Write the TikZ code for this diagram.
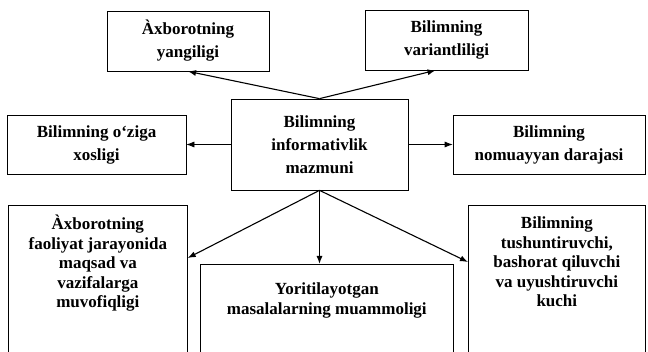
\documentclass[tikz,border=0pt]{standalone}
\usepackage{fontspec}
\setmainfont{Liberation Serif}
\usepackage{tikz}
\usetikzlibrary{
  arrows.meta,
  positioning,
  calc
}
\tikzset{
    infobox/.style={draw, line width=0.7pt, inner sep=0pt, align=center,
        font=\fontsize{17}{23}\selectfont\bfseries},
    tallbox/.style={draw, line width=0.7pt, inner sep=0pt, anchor=north west},
    boxtext/.style={inner sep=0pt, align=center, anchor=north,
        font=\fontsize{17}{19.5}\selectfont\bfseries},
    thinarrow/.style={-{Latex[length=8pt,width=6pt]}, line width=0.7pt},
    boldarrow/.style={-{Latex[length=8pt,width=6pt]}, line width=1.1pt}
}

\begin{document}
\begin{tikzpicture}[x=1pt, y=-1pt]
            \path[use as bounding box, clip] (0,0) rectangle (648,352);
            % upper row
            \node[infobox, minimum width=162pt, minimum height=60pt] (yangilik) at (188,41) {Àxborotning\\yangiligi};
            \node[infobox, minimum width=163pt, minimum height=60pt] (variant) at (446.5,40) {Bilimning\\variantliligi};
            % middle row
            \node[infobox, minimum width=177pt, minimum height=91pt] (info) at (319.5,144.5) {Bilimning\\informativlik\\mazmuni};
            \node[infobox, minimum width=179pt, minimum height=59pt] (xoslik) at (96.5,144.5) {Bilimning o‘ziga\\xosligi};
            \node[infobox, minimum width=192pt, minimum height=59pt] (nomuayyan) at (549,144.5) {Bilimning\\nomuayyan darajasi};
            % lower row, cut by the page edge
            \node[tallbox, minimum width=179pt, minimum height=160pt] (muvofiq) at (8,205) {};
            \node[tallbox, minimum width=253pt, minimum height=100pt] (muammo) at (200,264) {};
            \node[tallbox, minimum width=177pt, minimum height=160pt] (kuch) at (468,205) {};
            \node[boxtext, below=10pt of muvofiq.north] (muvofiqtext) {Àxborotning\\faoliyat jarayonida\\maqsad va\\vazifalarga\\muvofiqligi};
            \node[boxtext, below=19pt of muammo.north] (muammotext) {Yoritilayotgan\\masalalarning muammoligi};
            \node[boxtext, below=12pt of kuch.north] (kuchtext) {Bilimning\\tushuntiruvchi,\\bashorat qiluvchi\\va uyushtiruvchi\\kuchi};
            \coordinate (muvofiqin) at ($(muvofiq.north east)+(0,53)$);
            \coordinate (kuchin) at ($(kuch.north west)+(0,57)$);
            % connectors
            \draw[boldarrow] (info.north) -- (yangilik.south);
            \draw[boldarrow] (info.north) -- ($(variant.south)+(-11,0)$);
            \draw[thinarrow] (info.west) -- (xoslik.east);
            \draw[thinarrow] (info.east) -- (nomuayyan.west);
            \draw[boldarrow] (info.south) -- (muvofiqin);
            \draw[boldarrow] (info.south) -- (info.south |- muammo.north);
            \draw[boldarrow] (info.south) -- (kuchin);
        \end{tikzpicture}
\end{document}
